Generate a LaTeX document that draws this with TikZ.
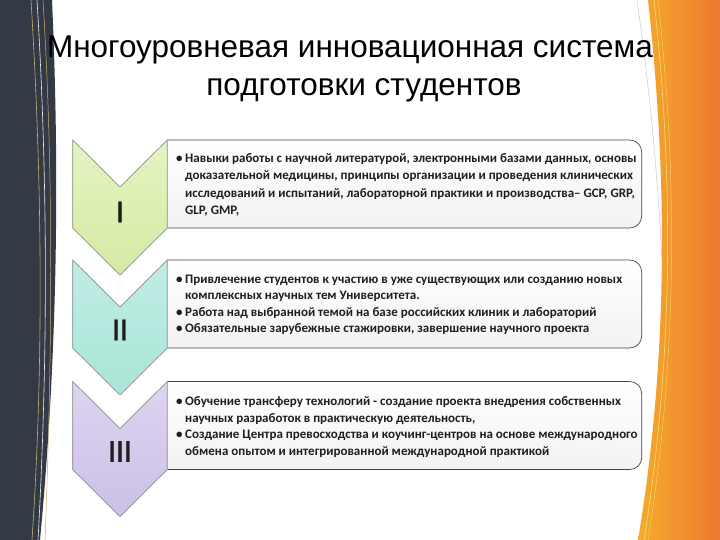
\documentclass[tikz,border=0pt]{standalone}
\usepackage{fontspec}
\setmainfont{Liberation Sans}
\newfontfamily\bodyfont{Carlito}
\newfontfamily\numfont[FakeBold=1.2]{Carlito}
\usetikzlibrary{calc}

\definecolor{paneldark}{RGB}{52,58,69}
\definecolor{panelgold}{RGB}{196,176,112}
\definecolor{orangeL}{RGB}{243,172,44}
\definecolor{orangeR}{RGB}{238,120,48}
\definecolor{chevline}{RGB}{140,145,140}
\definecolor{boxline}{RGB}{70,70,70}
\definecolor{textdark}{RGB}{30,30,30}
\definecolor{greenT}{RGB}{228,243,194}
\definecolor{greenB}{RGB}{212,235,164}
\definecolor{cyanT}{RGB}{192,237,229}
\definecolor{cyanB}{RGB}{170,228,215}
\definecolor{lilacT}{RGB}{222,212,240}
\definecolor{lilacB}{RGB}{204,191,231}

\def\chevron(#1,#2)[#3][#4]{\shadedraw[top color=#3, bottom color=#4, draw=chevline, line width=0.7pt] (#1,#2) -- ({#1+47.3},{#2+47}) -- ({#1+94.6},#2) -- ({#1+94.6},{#2+88}) -- ({#1+47.3},{#2+135}) -- (#1,{#2+88}) -- cycle;}
\def\txtframe(#1){\shadedraw[top color=white, bottom color=black!5, draw=boxline, line width=0.7pt, rounded corners=12pt] (167.3,#1) -- (641.7,#1) -- (641.7,{#1+88}) -- (167.3,{#1+88});}
\newcommand\itm[1]{\par\hangindent=9pt\hangafter=1\noindent\makebox[9pt][l]{\textbullet}#1}
\newcommand\itembox[1]{\parbox{480pt}{\raggedright #1}}

\begin{document}
\begin{tikzpicture}[x=1pt, y=-1pt,
	itemtext/.style={font=\bodyfont\bfseries\fontsize{13}{16.5}\selectfont, inner sep=0pt, text=textdark, anchor=west},
	numeral/.style={font=\numfont\fontsize{32}{32}\selectfont, inner sep=0pt, text=textdark},
	titletext/.style={font=\fontsize{31.5}{31.5}\selectfont, inner sep=0pt, anchor=base}]
	%%%%% START %%%%%
	\useasboundingbox (0,0) rectangle (720,540);
	\fill[white] (0,0) rectangle (720,540);
	
	% side panels
	\fill[paneldark] (0,0) -- (52,0) .. controls (60,180) and (57,360) .. (40,540) -- (0,540) -- cycle;
	\draw[panelgold, line width=0.6pt] (31,0) .. controls (42,180) and (44,360) .. (32,540);
	\draw[white!85!gray, line width=0.6pt] (37,0) .. controls (48,180) and (48,360) .. (38,540);
	\draw[panelgold, line width=0.5pt] (43,0) .. controls (54,180) and (52,360) .. (45,540);
	
	\shade[left color=orangeL, right color=orangeR] (648,0) .. controls (668,180) and (668,360) .. (638,540) -- (720,540) -- (720,0) -- cycle;
	\draw[white!60!yellow, opacity=0.7, line width=0.6pt] (654,0) .. controls (674,180) and (673,360) .. (644,540);
	\draw[white!60!yellow, opacity=0.5, line width=0.5pt] (658,0) .. controls (678,180) and (677,360) .. (648,540);
	\draw[black!25, line width=0.4pt] (637,0) .. controls (650,90) and (658,180) .. (662,260);
	
	% title
	\node[titletext] (title1) at (350,58) {Многоуровневая инновационная система};
	\node[titletext] (title2) at (364,96) {подготовки студентов};
	
	% level I
	\txtframe(140)
	\chevron(72.7,140)[greenT][greenB]
	\node[numeral] (numI) at (120,212) {I};
	\node[itemtext, font=\bodyfont\bfseries\fontsize{13}{17.5}\selectfont] (txtI) at (176,185) {\itembox{\itm{Навыки работы с научной литературой, электронными базами данных, основы\newline доказательной медицины, принципы организации и проведения клинических\newline исследований и испытаний, лабораторной практики и производства– GCP, GRP,\newline GLP, GMP,}}};
	
	% level II
	\txtframe(260)
	\chevron(72.7,260)[cyanT][cyanB]
	\node[numeral] (numII) at (120,330) {II};
	\node[itemtext] (txtII) at (176,305) {\itembox{\itm{Привлечение студентов к участию в уже существующих или созданию новых\newline комплексных научных тем Университета.}\itm{Работа над выбранной темой на базе российских клиник и лабораторий}\itm{Обязательные зарубежные стажировки, завершение научного проекта}}};
	
	% level III
	\txtframe(381.5)
	\chevron(72.7,381.5)[lilacT][lilacB]
	\node[numeral] (numIII) at (120,451.5) {III};
	\node[itemtext] (txtIII) at (176,427) {\itembox{\itm{Обучение трансферу технологий - создание проекта внедрения собственных\newline научных разработок в практическую деятельность,}\itm{Создание Центра превосходства и коучинг-центров на основе международного\newline обмена опытом и интегрированной международной практикой}}};
	
	%%%%% END %%%%%
\end{tikzpicture}
\end{document}
